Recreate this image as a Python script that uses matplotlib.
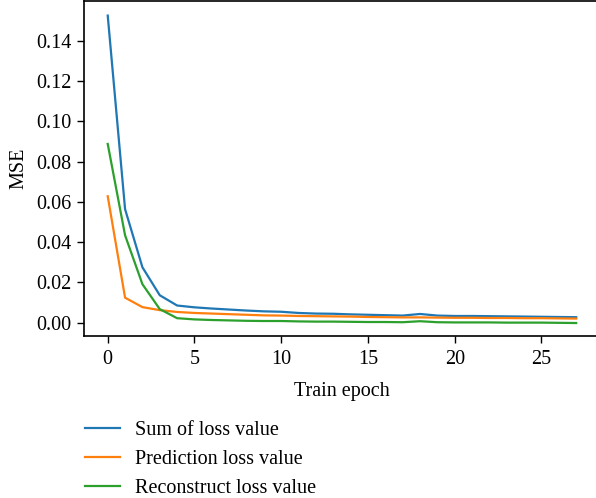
import matplotlib
matplotlib.use("Agg")
import matplotlib.pyplot as plt
import numpy as np

epochs = list(range(28))
sum_loss = [0.1526, 0.0564, 0.0275, 0.0136, 0.0085, 0.0076, 0.0070, 0.0065, 0.0060, 0.0056,
            0.0054, 0.0048, 0.0045, 0.0044, 0.0041, 0.0039, 0.0037, 0.0035, 0.0043, 0.0035,
            0.0033, 0.0033, 0.0032, 0.0031, 0.0030, 0.0029, 0.0028, 0.0027]
pred_loss = [0.0628, 0.0124, 0.0077, 0.0062, 0.0053, 0.0048, 0.0045, 0.0042, 0.0039, 0.0036,
             0.0035, 0.0033, 0.0032, 0.0031, 0.0030, 0.0028, 0.0027, 0.0026, 0.0026, 0.0025,
             0.0024, 0.0024, 0.0023, 0.0023, 0.0022, 0.0022, 0.0021, 0.0020]
recon_loss = [0.0888, 0.0434, 0.0191, 0.0067, 0.0022, 0.0016, 0.0013, 0.0011, 0.0009, 0.0008,
              0.0008, 0.0006, 0.0005, 0.0005, 0.0004, 0.0003, 0.0003, 0.0002, 0.0007, 0.0002,
              0.0001, 0.0001, 0.0001, 0.0000, 0.0000, 0.0000, -0.0001, -0.0002]
labels = ["Sum of loss value", "Prediction loss value", "Reconstruct loss value"]
yticks = [0.00, 0.02, 0.04, 0.06, 0.08, 0.10, 0.12, 0.14]
xticks = [0, 5, 10, 15, 20, 25]

plt.rcParams['font.family'] = ['Liberation Serif', 'DejaVu Serif']
plt.rcParams['font.size'] = 14.5

W, H = 596, 498
fig = plt.figure(figsize=(W / 100, H / 100), dpi=100)
left, right, top, bottom = 84.3, 599.6, 1.5, 335.7
ax = fig.add_axes([left / W, 1 - bottom / H, (right - left) / W, (bottom - top) / H])

colors = ['#1f77b4', '#ff7f0e', '#2ca02c']
for series, lab, c in zip([sum_loss, pred_loss, recon_loss], labels, colors):
    ax.plot(epochs, series, color=c, lw=1.6, label=lab)

ax.set_xlim(-1.35, 28.35)
ax.set_ylim(-0.0065, 0.1596)
ax.set_xticks(xticks)
ax.set_yticks(yticks)
ax.set_yticklabels([f"{v:.2f}" for v in yticks])
ax.tick_params(direction='out', length=5, width=1, labelsize=14.5, pad=4)
ax.tick_params(axis='x', pad=5)
for s in ax.spines.values():
    s.set_linewidth(1.2)
ax.set_xlabel("Train epoch", fontsize=14.5, labelpad=10)
ax.set_ylabel("MSE", fontsize=14.5, labelpad=6)

handles, labs = ax.get_legend_handles_labels()
fig.legend(handles, labs, loc='upper left', bbox_to_anchor=(85 / W, 1 - 421 / H),
           frameon=False, borderpad=0, borderaxespad=0, handlelength=1.75,
           handletextpad=0.75, labelspacing=0.48, fontsize=14.5)

fig.savefig("out.png", dpi=100)
